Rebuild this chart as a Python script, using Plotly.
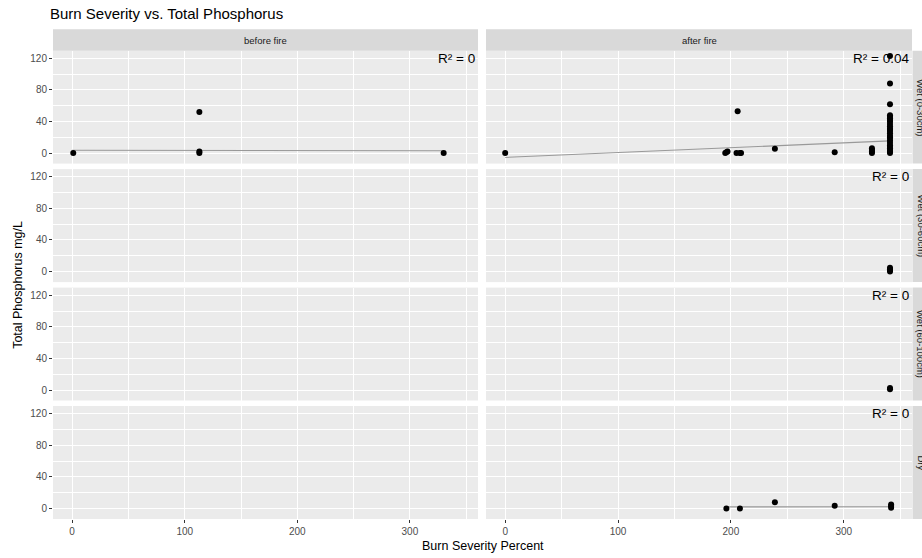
import plotly.graph_objects as go

W, H = 922, 558

# ---------------- data ----------------
col_labels = ["before fire", "after fire"]
row_labels = ["Wet (0-30cm)", "Wet (30-60cm)", "Wet (60-100cm)", "Dry"]
x_ticks = [0, 100, 200, 300]
y_ticks = [0, 40, 80, 120]

# before fire, row 1
bf1_x = [1, 113, 113, 113, 330]
bf1_y = [0, 0, 2, 52, 0]
bf1_fit_x = [0, 330]
bf1_fit_y = [3.6, 3.0]

# after fire, row 1
af1_x = [0, 195, 196, 197, 206, 205, 208, 209, 239, 292, 325, 325, 325, 325,
         341, 341, 341, 341, 341, 341, 341, 341, 341, 341, 341, 341, 341, 341,
         341, 341, 341, 341, 341, 341, 341, 341, 341, 341, 341]
af1_y = [0, 0, 1, 2, 53, 0, 0, 0, 5.5, 1, 0, 2, 4, 6,
         0, 2, 4, 6, 8, 10, 13, 16, 19, 22, 25, 28, 31, 34,
         37, 40, 42, 44, 46, 48, 62, 88, 123, 30, 20]
af1_fit_x = [0, 341]
af1_fit_y = [-5.5, 15.5]

# after fire, row 2
af2_x = [341, 341, 341, 341]
af2_y = [0, 2, 3, 5]

# after fire, row 3
af3_x = [341, 341]
af3_y = [1, 2.5]

# after fire, row 4
af4_x = [196, 208, 239, 292, 342, 342, 342]
af4_y = [0, 0, 8, 3.5, 1, 3, 5]
af4_fit_x = [196, 342]
af4_fit_y = [2.0, 2.2]

r2_labels = {(0, 0): "R² = 0", (0, 1): "R² = 0.04", (1, 1): "R² = 0",
             (2, 1): "R² = 0", (3, 1): "R² = 0"}

panels = {
    (0, 0): (bf1_x, bf1_y, bf1_fit_x, bf1_fit_y),
    (0, 1): (af1_x, af1_y, af1_fit_x, af1_fit_y),
    (1, 1): (af2_x, af2_y, None, None),
    (2, 1): (af3_x, af3_y, None, None),
    (3, 1): (af4_x, af4_y, af4_fit_x, af4_fit_y),
}

# ---------------- layout geometry (px) ----------------
col_px = [(53, 478), (486, 912)]
row_px = [(50.7, 163.6), (169.1, 282.1), (287.6, 400.5), (406.0, 519.0)]
x_range = [-17, 360.5]
y_range = [-13.3, 129.7]

FONT = "Liberation Sans, Arial, sans-serif"

fig = go.Figure()
layout = dict(
    width=W, height=H, margin=dict(l=0, r=0, t=0, b=0),
    paper_bgcolor="white", plot_bgcolor="#EBEBEB",
    showlegend=False, font=dict(family=FONT),
    title=dict(text="Burn Severity vs. Total Phosphorus", x=50 / W, xanchor="left",
               y=1 - 14 / H, yanchor="middle", xref="paper",
               font=dict(size=15, color="black", family=FONT)),
)
annotations = []
shapes = []

for r in range(4):
    for c in range(2):
        idx = r * 2 + c + 1
        xa = "xaxis" if idx == 1 else f"xaxis{idx}"
        ya = "yaxis" if idx == 1 else f"yaxis{idx}"
        xr = "x" if idx == 1 else f"x{idx}"
        yr = "y" if idx == 1 else f"y{idx}"
        x0, x1 = col_px[c]
        y0, y1 = row_px[r]
        show_x = r == 3
        show_y = c == 0
        layout[xa] = dict(
            domain=[x0 / W, x1 / W], range=x_range, anchor=yr,
            tickvals=x_ticks, showgrid=True, gridcolor="white", gridwidth=1.1,
            zeroline=False, showline=False,
            minor=dict(tickvals=[50, 150, 250, 350], showgrid=True,
                       gridcolor="white", gridwidth=0.55),
            showticklabels=show_x, ticks="outside" if show_x else "",
            ticklen=3, tickwidth=1, tickcolor="#333333",
            tickfont=dict(size=10, color="#4D4D4D", family=FONT),
        )
        layout[ya] = dict(
            domain=[1 - y1 / H, 1 - y0 / H], range=y_range, anchor=xr,
            tickvals=y_ticks, showgrid=True, gridcolor="white", gridwidth=1.1,
            zeroline=False, showline=False,
            minor=dict(tickvals=[20, 60, 100], showgrid=True,
                       gridcolor="white", gridwidth=0.55),
            showticklabels=show_y, ticks="outside" if show_y else "",
            ticklen=3, tickwidth=1, tickcolor="#333333",
            tickfont=dict(size=10, color="#4D4D4D", family=FONT),
        )
        # empty trace so every panel is drawn
        fig.add_trace(go.Scatter(x=[None], y=[None], mode="markers",
                                 xaxis=xr, yaxis=yr, hoverinfo="skip"))
        if (r, c) in panels:
            px_, py_, fx, fy = panels[(r, c)]
            if fx is not None:
                fig.add_trace(go.Scatter(x=fx, y=fy, mode="lines", xaxis=xr, yaxis=yr,
                                         line=dict(color="#999999", width=1.1),
                                         hoverinfo="skip"))
            fig.add_trace(go.Scatter(x=px_, y=py_, mode="markers", xaxis=xr, yaxis=yr,
                                     marker=dict(color="black", size=6)))
        if (r, c) in r2_labels:
            annotations.append(dict(
                text=r2_labels[(r, c)], xref=f"{xr} domain", yref=f"{yr} domain",
                x=1, y=1, xanchor="right", yanchor="top", showarrow=False,
                xshift=-1, yshift=2,
                font=dict(size=13.5, color="black", family=FONT)))

# top strips
for c, lab in enumerate(col_labels):
    x0, x1 = col_px[c]
    shapes.append(dict(type="rect", xref="paper", yref="paper",
                       x0=x0 / W, x1=x1 / W, y0=1 - 50.7 / H, y1=1 - 29.3 / H,
                       fillcolor="#D9D9D9", line=dict(width=0), layer="below"))
    annotations.append(dict(text=lab, xref="paper", yref="paper",
                            x=(x0 + x1) / 2 / W, y=1 - 40 / H, xanchor="center",
                            yanchor="middle", showarrow=False,
                            font=dict(size=9.5, color="#1A1A1A", family=FONT)))

# right strips (partly outside the canvas, as in the original)
for r, lab in enumerate(row_labels):
    y0, y1 = row_px[r]
    shapes.append(dict(type="rect", xref="paper", yref="paper",
                       x0=912.5 / W, x1=934 / W, y0=1 - y1 / H, y1=1 - y0 / H,
                       fillcolor="#D9D9D9", line=dict(width=0), layer="below"))
    annotations.append(dict(text=lab, xref="paper", yref="paper", textangle=90,
                            x=921 / W, y=1 - (y0 + y1) / 2 / H, xanchor="center",
                            yanchor="middle", showarrow=False,
                            font=dict(size=9.5, color="#1A1A1A", family=FONT)))

# axis titles
annotations.append(dict(text="Burn Severity Percent", xref="paper", yref="paper",
                        x=(53 + 912) / 2 / W, y=1 - 546 / H, xanchor="center",
                        yanchor="middle", showarrow=False,
                        font=dict(size=12.5, color="black", family=FONT)))
annotations.append(dict(text="Total Phosphorus mg/L", xref="paper", yref="paper",
                        x=18 / W, y=1 - (50.7 + 519) / 2 / H, xanchor="center",
                        yanchor="middle", showarrow=False, textangle=-90,
                        font=dict(size=12.5, color="black", family=FONT)))

layout["annotations"] = annotations
layout["shapes"] = shapes
fig.update_layout(**layout)
fig.write_html("out.html")
